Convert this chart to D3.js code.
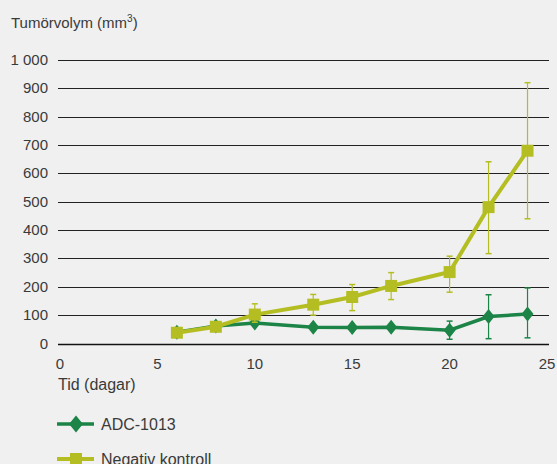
<!DOCTYPE html>
<html>
<head>
<meta charset="utf-8">
<script src="https://cdn.jsdelivr.net/npm/d3@7"></script>
<style>
  body { margin: 0; background: #f0f0f0; }
  #chart { width: 557px; height: 464px; }
  text { font-family: "Liberation Sans", Arial, sans-serif; fill: #3a3a3a; }
</style>
</head>
<body>
<div id="chart"></div>
<script>
const days = [6, 8, 10, 13, 15, 17, 20, 22, 24];
const adc = [40, 62, 72, 57, 56, 57, 47, 95, 104];
const adcLow = [40, 62, 72, 57, 56, 57, 15, 17, 20];
const adcHigh = [40, 62, 72, 57, 56, 57, 79, 172, 196];
const neg = [38, 59, 102, 137, 164, 203, 252, 481, 680];
const negLow = [38, 59, 75, 100, 116, 155, 181, 317, 440];
const negHigh = [38, 59, 140, 173, 208, 250, 308, 641, 920];
const yTicks = [0, 100, 200, 300, 400, 500, 600, 700, 800, 900, 1000];
const xTicks = [0, 5, 10, 15, 20, 25];

const W = 557, H = 464;
const green = "#1b8446", lime = "#b4be22";

const svg = d3.select("#chart").append("svg")
  .attr("width", W).attr("height", H);

const x = d3.scaleLinear().domain([0, 25]).range([60, 547]);
const y = d3.scaleLinear().domain([0, 1000]).range([343.5, 60]);

const fmt = d => d3.format(",")(d).replace(",", " ");

// gridlines
svg.append("g").selectAll("line").data(yTicks).join("line")
  .attr("x1", 58).attr("x2", 549)
  .attr("y1", d => Math.round(y(d)) + 0.5).attr("y2", d => Math.round(y(d)) + 0.5)
  .attr("stroke", d => d === 0 ? "#111" : "#222").attr("stroke-width", d => d === 0 ? 1.5 : 1);

// y labels
svg.append("g").selectAll("text").data(yTicks).join("text")
  .attr("x", 48).attr("y", d => y(d) + 5)
  .attr("text-anchor", "end").style("font-size", "15px")
  .text(fmt);

// x labels
svg.append("g").selectAll("text").data(xTicks).join("text")
  .attr("x", d => x(d)).attr("y", 369)
  .attr("text-anchor", "middle").style("font-size", "15px")
  .text(d => d);

const title = svg.append("text").attr("x", 11).attr("y", 28).style("font-size", "15px");
title.append("tspan").text("Tumörvolym (mm");
title.append("tspan").attr("dy", -6).style("font-size", "10px").text("3");
title.append("tspan").attr("dy", 6).text(")");

svg.append("text").attr("x", 58).attr("y", 390).style("font-size", "16px").text("Tid (dagar)");

const diamond = (w, h) => `M0,${-h}L${w},0L0,${h}L${-w},0Z`;
const square = s => `M${-s},${-s}H${s}V${s}H${-s}Z`;

const series = [
  { name: "ADC-1013", vals: adc, lo: adcLow, hi: adcHigh, color: green, mark: diamond(6, 7.5), legMark: diamond(7, 8.5), width: 3.5 },
  { name: "Negativ kontroll", vals: neg, lo: negLow, hi: negHigh, color: lime, mark: square(6), legMark: square(6), width: 4 }
];

const line = d3.line().x(d => x(d[0])).y(d => y(d[1]));

series.forEach(s => {
  const g = svg.append("g");
  const pts = days.map((d, i) => [d, s.vals[i], s.lo[i], s.hi[i]]);
  const eb = pts.filter(p => p[3] - p[2] > 1);
  g.selectAll("line.eb").data(eb).join("line")
    .attr("x1", d => x(d[0])).attr("x2", d => x(d[0]))
    .attr("y1", d => y(d[2])).attr("y2", d => y(d[3]))
    .attr("stroke", s.color).attr("stroke-width", 1.2);
  [2, 3].forEach(k => {
    g.selectAll("line.cap" + k).data(eb).join("line")
      .attr("x1", d => x(d[0]) - 3).attr("x2", d => x(d[0]) + 3)
      .attr("y1", d => y(d[k])).attr("y2", d => y(d[k]))
      .attr("stroke", s.color).attr("stroke-width", 1.5);
  });
  g.append("path").datum(pts).attr("d", line)
    .attr("fill", "none").attr("stroke", s.color).attr("stroke-width", s.width);
  g.selectAll("path.m").data(pts).join("path")
    .attr("transform", d => `translate(${x(d[0])},${y(d[1])})`)
    .attr("d", s.mark).attr("fill", s.color);
});

// legend
series.forEach((s, i) => {
  const ly = 424 + i * 35;
  const g = svg.append("g");
  g.append("line").attr("x1", 57).attr("x2", 94).attr("y1", ly).attr("y2", ly)
    .attr("stroke", s.color).attr("stroke-width", s.width);
  g.append("path").attr("transform", `translate(76,${ly})`)
    .attr("d", s.legMark).attr("fill", s.color);
  g.append("text").attr("x", 101).attr("y", ly + 6).style("font-size", "16px").text(s.name);
});
</script>
</body>
</html>
